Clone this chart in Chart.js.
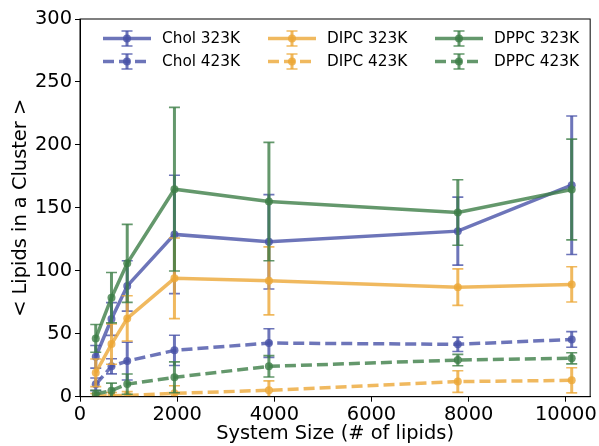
<!DOCTYPE html>
<html>
<head>
<meta charset="utf-8">
<script src="https://cdn.jsdelivr.net/npm/chart.js@4"></script>
<style>
  html, body { margin: 0; padding: 0; background: #fff; }
  #wrap { width: 599px; height: 446px; }
</style>
</head>
<body>
<div id="wrap"><canvas id="clusterChart"></canvas></div>
<script>
const systemSizes = [324, 648, 972, 1944, 3888, 7776, 10120];

const chol323 = [31.7, 61.7, 88, 128.9, 123, 131.5, 168];
const chol323Err = [9, 13, 20, 47, 37.5, 27, 55];
const chol423 = [9.8, 24.1, 28.3, 36.8, 42.6, 41.6, 45.5];
const chol423Err = [5, 6, 15, 12, 11.4, 5.7, 6.2];
const dipc323 = [19, 41.8, 62.2, 94, 92, 87, 89.2];
const dipc323Err = [11, 16, 18, 32, 27, 14.5, 14];
const dipc423 = [0.5, 0.8, 1, 2.7, 5.1, 12, 13];
const dipc423Err = [2, 2.5, 3, 6, 7.5, 8.6, 10];
const dppc323 = [46.3, 78.6, 105.9, 164.8, 155, 146.3, 164.6];
const dppc323Err = [11, 20, 31, 65, 47, 26, 40];
const dppc423 = [2.1, 4.8, 10, 15.4, 24.1, 29.1, 30.5];
const dppc423Err = [3, 6, 8, 12.3, 8.5, 4.5, 4.4];

const xTicks = [0, 2000, 4000, 6000, 8000, 10000];

const BLUE = 'rgba(72, 82, 168, 0.8)';
const ORANGE = 'rgba(236, 168, 55, 0.8)';
const GREEN = 'rgba(61, 126, 71, 0.8)';
const FONT = 'DejaVu Sans';

function makeSet(label, values, errors, color, dashed, order) {
    return {
        label: label,
        data: values.map((v, i) => ({ x: systemSizes[i], y: v })),
        errors: errors,
        borderColor: color,
        backgroundColor: color,
        borderWidth: 3.5,
        borderDash: dashed ? [11, 5] : [],
        pointRadius: 4,
        pointBorderWidth: 0,
        pointBackgroundColor: color,
        tension: 0,
        dashed: dashed,
        order: order
    };
}

const datasets = [
    makeSet('Chol 323K', chol323, chol323Err, BLUE, false, 6),
    makeSet('Chol 423K', chol423, chol423Err, BLUE, true, 5),
    makeSet('DIPC 323K', dipc323, dipc323Err, ORANGE, false, 4),
    makeSet('DIPC 423K', dipc423, dipc423Err, ORANGE, true, 3),
    makeSet('DPPC 323K', dppc323, dppc323Err, GREEN, false, 2),
    makeSet('DPPC 423K', dppc423, dppc423Err, GREEN, true, 1)
];

// vertical error bars, drawn right after each series like matplotlib
const errorBars = {
    id: 'errorBars',
    afterDatasetDraw(chart, args) {
        const ds = chart.data.datasets[args.index];
        const yScale = chart.scales.y;
        const area = chart.chartArea;
        const ctx = chart.ctx;
        ctx.save();
        ctx.beginPath();
        ctx.rect(area.left, area.top, area.right - area.left, area.bottom - area.top);
        ctx.clip();
        ctx.strokeStyle = ds.borderColor;
        args.meta.data.forEach((pt, j) => {
            const top = yScale.getPixelForValue(ds.data[j].y + ds.errors[j]);
            const bottom = yScale.getPixelForValue(ds.data[j].y - ds.errors[j]);
            ctx.lineWidth = 3;
            ctx.beginPath();
            ctx.moveTo(pt.x, top);
            ctx.lineTo(pt.x, bottom);
            ctx.stroke();
            ctx.lineWidth = 1.6;
            ctx.beginPath();
            ctx.moveTo(pt.x - 5.5, top);
            ctx.lineTo(pt.x + 5.5, top);
            ctx.moveTo(pt.x - 5.5, bottom);
            ctx.lineTo(pt.x + 5.5, bottom);
            ctx.stroke();
        });
        ctx.restore();
    }
};

// box around the plot + matplotlib style legend (3 columns)
const frameAndLegend = {
    id: 'frameAndLegend',
    afterDraw(chart) {
        const ctx = chart.ctx;
        const a = chart.chartArea;
        ctx.save();
        ctx.strokeStyle = '#000';
        ctx.lineWidth = 1;
        ctx.strokeRect(a.left, a.top, a.right - a.left, a.bottom - a.top);

        const colX = [a.left + 23, a.left + 188, a.left + 355];
        const rowY = [a.top + 19.5, a.top + 42.5];
        ctx.font = '15.3px "' + FONT + '"';
        ctx.textBaseline = 'middle';
        chart.data.datasets.forEach((ds, i) => {
            const x = colX[Math.floor(i / 2)];
            const y = rowY[i % 2];
            const mid = x + 24;
            ctx.strokeStyle = ds.borderColor;
            ctx.lineWidth = 3.5;
            ctx.setLineDash(ds.dashed ? [11, 5] : []);
            ctx.beginPath();
            ctx.moveTo(x, y);
            ctx.lineTo(x + 48, y);
            ctx.stroke();
            ctx.setLineDash([]);
            ctx.lineWidth = 3;
            ctx.beginPath();
            ctx.moveTo(mid, y - 7.5);
            ctx.lineTo(mid, y + 7.5);
            ctx.stroke();
            ctx.lineWidth = 1.6;
            ctx.beginPath();
            ctx.moveTo(mid - 5.5, y - 7.5);
            ctx.lineTo(mid + 5.5, y - 7.5);
            ctx.moveTo(mid - 5.5, y + 7.5);
            ctx.lineTo(mid + 5.5, y + 7.5);
            ctx.stroke();
            ctx.fillStyle = ds.borderColor;
            ctx.beginPath();
            ctx.arc(mid, y, 4, 0, Math.PI * 2);
            ctx.fill();
            ctx.fillStyle = '#000';
            ctx.fillText(ds.label, x + 59, y + 1);
        });
        ctx.restore();
    }
};

const ctx = document.getElementById('clusterChart').getContext('2d');
new Chart(ctx, {
    type: 'line',
    data: { datasets: datasets },
    options: {
        responsive: true,
        maintainAspectRatio: false,
        animation: false,
        layout: { padding: { top: 19, right: 6, left: 0, bottom: 0 } },
        scales: {
            x: {
                type: 'linear',
                min: 0,
                max: 10500,
                afterBuildTicks: scale => {
                    scale.ticks = xTicks.map(v => ({ value: v }));
                },
                afterFit: scale => { scale.height = 49.3; },
                grid: { display: true, drawOnChartArea: false, drawTicks: true, tickLength: 5, color: '#000' },
                border: { display: true, color: '#000', width: 1 },
                ticks: {
                    color: '#000',
                    padding: 2,
                    maxRotation: 0,
                    font: { family: FONT, size: 19.4 },
                    callback: v => String(v)
                },
                title: {
                    display: true,
                    text: 'System Size (# of lipids)',
                    color: '#000',
                    padding: { top: 0, bottom: 0 },
                    font: { family: FONT, size: 19.4, lineHeight: 1.2 }
                }
            },
            y: {
                min: 0,
                max: 300,
                afterFit: scale => { scale.width = 80; },
                grid: { display: true, drawOnChartArea: false, drawTicks: true, tickLength: 5, color: '#000' },
                border: { display: true, color: '#000', width: 1 },
                ticks: {
                    stepSize: 50,
                    color: '#000',
                    padding: 3,
                    font: { family: FONT, size: 19.4 }
                },
                title: {
                    display: true,
                    text: '< Lipids in a Cluster >',
                    color: '#000',
                    padding: { top: 9.5, bottom: 0 },
                    font: { family: FONT, size: 19.4, lineHeight: 1.2 }
                }
            }
        },
        plugins: {
            legend: { display: false },
            tooltip: { enabled: false }
        }
    },
    plugins: [errorBars, frameAndLegend]
});
</script>
</body>
</html>
